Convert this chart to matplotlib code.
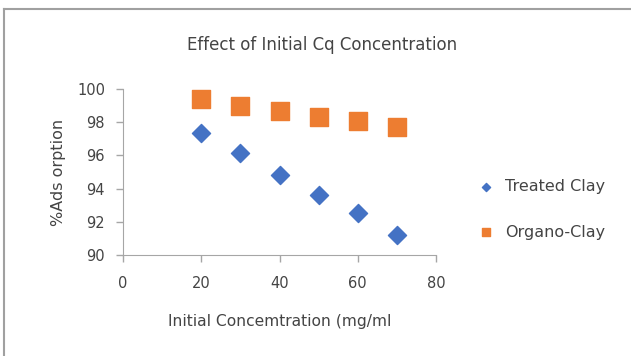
import matplotlib.pyplot as plt
from matplotlib.lines import Line2D

conc = [20, 30, 40, 50, 60, 70]
treated = [97.35, 96.13, 94.8, 93.6, 92.53, 91.2]
organo = [99.4, 99.0, 98.65, 98.33, 98.05, 97.7]

plt.rcParams['font.family'] = ['DejaVu Sans']
grey = '#444444'

fig = plt.figure(figsize=(6.31, 3.56), dpi=100)
ax = fig.add_axes([0.195, 0.284, 0.496, 0.466])

ax.scatter(conc, treated, marker='D', s=85, color='#4472C4', label='Treated Clay', zorder=3)
ax.scatter(conc, organo, marker='s', s=150, color='#ED7D31', label='Organo-Clay', zorder=3)

ax.set_xlim(0, 80)
ax.set_ylim(90, 100)
ax.set_xticks(range(0, 81, 20))
ax.set_yticks(range(90, 101, 2))
for s in ['top', 'right']:
    ax.spines[s].set_visible(False)
for s in ['left', 'bottom']:
    ax.spines[s].set_color('#a6a6a6')
ax.tick_params(colors='#a6a6a6', labelcolor=grey, labelsize=10.5, length=5, width=1)
ax.tick_params(axis='x', pad=10)
ax.tick_params(axis='y', pad=8)

ax.set_xlabel('Initial Concemtration (mg/ml', fontsize=11.2, color=grey, labelpad=17)
ax.set_ylabel('%Ads orption', fontsize=11.5, color=grey, labelpad=8)
fig.text(0.51, 0.875, 'Effect of Initial Cq Concentration', ha='center', va='center',
         fontsize=12, color=grey)

fig.legend(loc='center left', bbox_to_anchor=(0.735, 0.412), frameon=False,
           fontsize=11.5, labelcolor=grey, markerscale=0.45, handletextpad=0.7,
           labelspacing=1.9, handlelength=1.0)

# chart area border (left and top edges)
fig.add_artist(Line2D([0.0063, 0.0063], [0, 0.975], transform=fig.transFigure,
                      color='#a0a0a0', linewidth=1.5))
fig.add_artist(Line2D([0.0063, 1], [0.975, 0.975], transform=fig.transFigure,
                      color='#a0a0a0', linewidth=1.5))

fig.savefig('out.png', dpi=100)
